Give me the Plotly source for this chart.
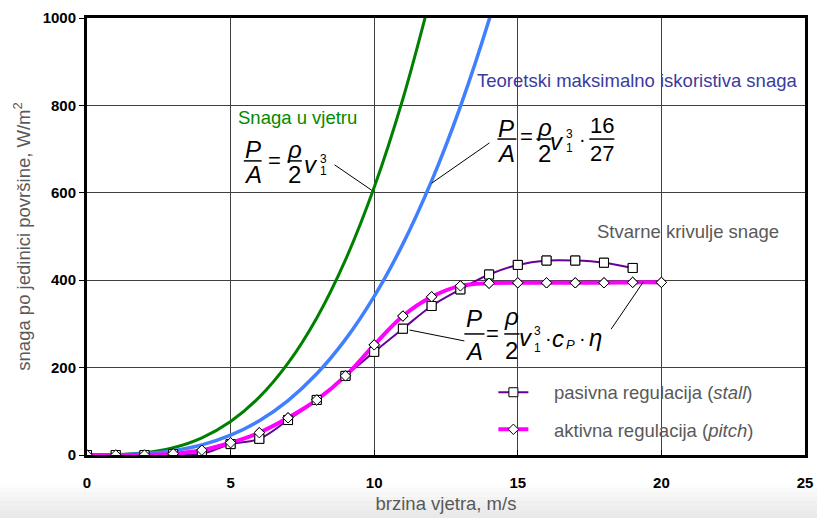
import plotly.graph_objects as go

# Wind speed grid (m/s)
v_wind = list(range(0, 13))
v_betz = list(range(0, 16))
v_real = list(range(0, 21))

# Power in the wind, P/A = rho/2 * v^3 (W/m^2)
p_wind = [0, 0.6, 4.9, 16.5, 39.2, 76.6, 132.3, 210.1, 313.6, 446.5, 612.5, 815.2, 1058.4]
# Theoretical maximum (Betz limit, 16/27 of the wind power)
p_betz = [0, 0.36, 2.9, 9.8, 23.2, 45.4, 78.4, 124.5, 185.8, 264.6, 363.0, 483.1, 627.2,
          797.4, 995.9, 1225.0]
# Real power curves
v_stall = list(range(0, 20))
p_stall = [0, 0, 0, 2, 3, 25, 37, 80, 126, 181, 236, 289, 341, 379, 413, 435, 445, 445, 440, 428]
p_pitch = [0, 0, 0, 3, 11, 28, 51, 85, 126, 181, 252, 318, 362, 387, 393, 394, 394, 394, 394,
           395, 395]

x_ticks = [0, 5, 10, 15, 20, 25]
y_ticks = [0, 200, 400, 600, 800, 1000]

GRAY_TXT = "#595959"
FONT = "Arial"
PAD = "\u00a0\u00a0\u00a0\u00a0"

fig = go.Figure()

fig.add_trace(go.Scatter(x=v_wind, y=p_wind, mode="lines", line=dict(color="#008000", width=3, shape="spline"),
                         showlegend=False, hoverinfo="skip"))
fig.add_trace(go.Scatter(x=v_betz, y=p_betz, mode="lines", line=dict(color="#4080ff", width=3.5, shape="spline"),
                         showlegend=False, hoverinfo="skip"))

stall_marker = dict(symbol="square", size=9, color="white", line=dict(color="black", width=1))
pitch_marker = dict(symbol="diamond", size=8, color="white", line=dict(color="black", width=1))

fig.add_trace(go.Scatter(x=v_stall, y=p_stall, mode="lines+markers", name=PAD + "pasivna regulacija (<i>stall</i>)",
                         line=dict(color="#660099", width=2, shape="spline"), marker=stall_marker,
                         legendgroup="a"))
fig.add_trace(go.Scatter(x=v_real, y=p_pitch, mode="lines+markers", name=PAD + "aktivna regulacija (<i>pitch</i>)",
                         line=dict(color="#ff00ff", width=4, shape="spline"), marker=pitch_marker,
                         legendgroup="b"))
# markers redrawn on top of both lines
fig.add_trace(go.Scatter(x=v_stall, y=p_stall, mode="markers", marker=stall_marker, showlegend=False,
                         hoverinfo="skip"))
fig.add_trace(go.Scatter(x=v_real, y=p_pitch, mode="markers", marker=pitch_marker, showlegend=False,
                         hoverinfo="skip"))

annotations = []
shapes = []


def txt(x, y, s, size=24, color="black", xanchor="center"):
    annotations.append(dict(x=x, y=y, xref="x", yref="y", text=s, showarrow=False,
                            xanchor=xanchor, yanchor="middle", borderpad=0,
                            font=dict(family=FONT, size=size, color=color)))


def seg(x0, y0, x1, y1, width=1.0):
    shapes.append(dict(type="line", xref="x", yref="y", x0=x0, y0=y0, x1=x1, y1=y1,
                       line=dict(color="black", width=width)))


# labels
txt(5.22, 773, "Snaga u vjetru", size=18.5, color="#008a00", xanchor="left")
txt(13.56, 858, "Teoretski maksimalno iskoristiva snaga", size=18.5, color="#3b3ba0", xanchor="left")
txt(17.73, 512, "Stvarne krivulje snage", size=18.5, color=GRAY_TXT, xanchor="left")

# P/A = rho/2 v1^3
txt(5.77, 698, "<i>P</i>"); seg(5.46, 673, 6.08, 673, 1.5); txt(5.77, 641, "<i>A</i>")
txt(6.54, 673, "=", size=22)
txt(7.23, 700, "<i>ρ</i>"); seg(6.99, 673, 7.48, 673, 1.5); txt(7.23, 641, "2")
txt(7.80, 664, "<i>v</i>")
txt(8.22, 678, "3", size=12); txt(8.22, 649, "1", size=12)
seg(8.62, 664, 9.91, 606)

# P/A = rho/2 v1^3 * 16/27
txt(14.60, 748, "<i>P</i>"); seg(14.29, 723, 14.95, 723, 1.5); txt(14.60, 691, "<i>A</i>")
txt(15.30, 728, "=", size=22)
txt(15.92, 750, "<i>ρ</i>"); seg(15.65, 723, 16.17, 723, 1.5); txt(15.92, 691, "2")
txt(16.36, 718, "<i>v</i>")
txt(16.79, 734, "3", size=12); txt(16.79, 703, "1", size=12)
txt(17.25, 723, "·", size=20)
txt(17.94, 753, "16", size=22); seg(17.49, 723, 18.36, 723, 1.5); txt(17.94, 691, "27", size=22)
seg(12.0, 622, 14.01, 714)

# P/A = rho/2 v1^3 * cP * eta
txt(13.49, 313, "<i>P</i>"); seg(13.14, 277, 13.84, 277, 1.5); txt(13.49, 236, "<i>A</i>")
txt(14.12, 277, "=", size=22)
txt(14.78, 318, "<i>ρ</i>"); seg(14.53, 277, 15.06, 277, 1.5); txt(14.78, 240, "2")
txt(15.28, 268, "<i>v</i>")
txt(15.70, 283, "3", size=12); txt(15.70, 244, "1", size=12)
txt(16.08, 268, "·", size=20)
txt(16.40, 266, "<i>c</i>")
txt(16.85, 252, "<i>P</i>", size=13)
txt(17.27, 268, "·", size=20)
txt(17.72, 268, "<i>η</i>")
seg(11.23, 286, 13.14, 261)
seg(19.37, 396, 18.25, 288)

# soft gray band along the bottom edge of the page
band = ["#fdfdfd", "#fafafa", "#f6f6f6", "#f3f3f3", "#f0f0f0", "#ededed", "#ebebeb", "#e9e9e9"]
y_top, y_bot = -0.065, -0.145
step = (y_top - y_bot) / len(band)
for i, c in enumerate(band):
    shapes.append(dict(type="rect", xref="paper", yref="paper", x0=-0.13, x1=1.03,
                       y0=y_top - (i + 1) * step, y1=y_top - i * step,
                       line=dict(width=0), fillcolor=c, layer="below"))

fig.update_layout(
    width=817, height=518,
    margin=dict(l=87, r=12, t=18, b=63, autoexpand=False),
    paper_bgcolor="white", plot_bgcolor="white",
    font=dict(family=FONT, color=GRAY_TXT),
    annotations=annotations,
    shapes=shapes,
    legend=dict(x=0.566, y=0.186, xanchor="left", yanchor="top", bgcolor="rgba(0,0,0,0)",
                font=dict(family=FONT, size=18.5, color=GRAY_TXT), traceorder="grouped",
                tracegroupgap=10),
    xaxis=dict(range=[0, 25], tickvals=x_ticks, ticktext=[str(t) for t in x_ticks],
               showgrid=True, gridcolor="#404040", gridwidth=1, zeroline=False, automargin=False,
               showline=True, linecolor="black", linewidth=3, mirror=True,
               ticks="inside", ticklen=5, tickcolor="black", ticklabelstandoff=12,
               tickfont=dict(family=FONT, size=15, color="black", weight="bold"),
               title=dict(text="brzina vjetra, m/s", font=dict(family=FONT, size=18.5, color=GRAY_TXT),
                          standoff=8)),
    yaxis=dict(range=[0, 1000], tickvals=y_ticks, ticktext=[str(t) for t in y_ticks],
               showgrid=True, gridcolor="#404040", gridwidth=1, zeroline=False, automargin=False,
               showline=True, linecolor="black", linewidth=3, mirror=True,
               ticks="outside", ticklen=5, tickcolor="black",
               tickfont=dict(family=FONT, size=15, color="black", weight="bold"),
               title=dict(text="snaga po jedinici površine, W/m<sup>2</sup>",
                          font=dict(family=FONT, size=18.5, color=GRAY_TXT), standoff=8)),
)

fig.write_html("out.html")
